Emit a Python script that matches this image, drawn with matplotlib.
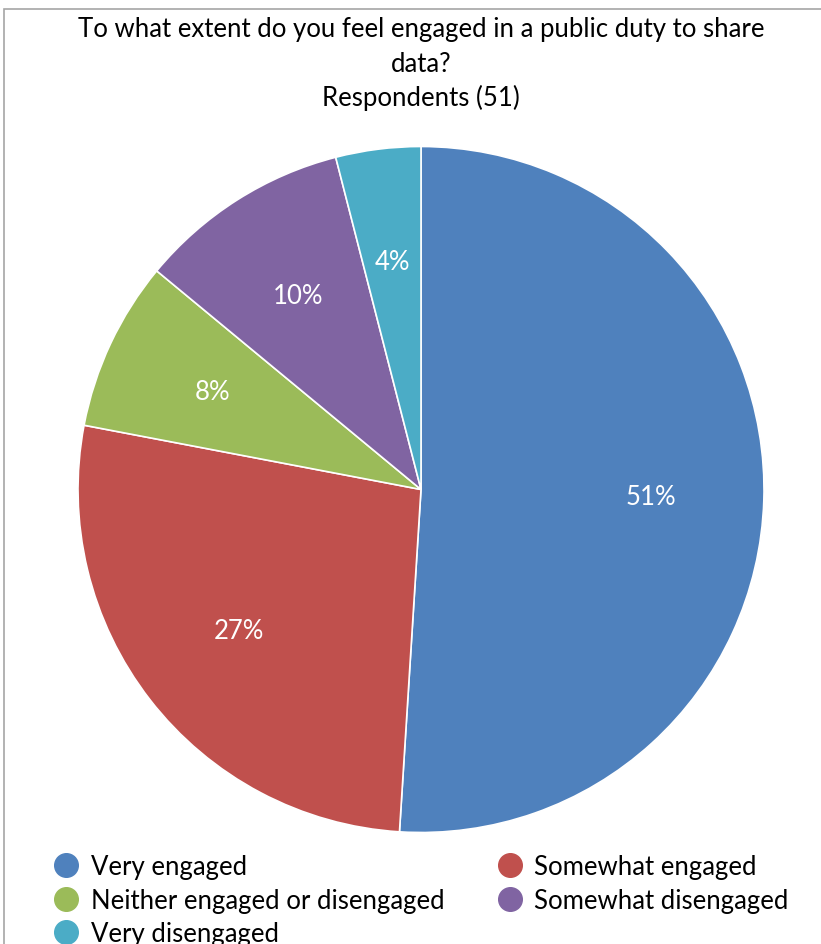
import matplotlib
matplotlib.use("Agg")
import matplotlib.pyplot as plt
from matplotlib.lines import Line2D
from matplotlib.patches import Rectangle

categories = ["Very engaged", "Somewhat engaged", "Neither engaged or disengaged",
              "Somewhat disengaged", "Very disengaged"]
values = [51, 27, 8, 10, 4]
colors = ["#4F81BD", "#C0504D", "#9BBB59", "#8064A2", "#4BACC6"]
title_lines = ["To what extent do you feel engaged in a public duty to share", "data?", "Respondents (51)"]

plt.rcParams['font.family'] = ['Lato', 'DejaVu Sans']

W, H = 821, 945
fig = plt.figure(figsize=(W/100, H/100), dpi=100)

# chart border
fig.patches.append(Rectangle((4/W, -0.1), 2, (H-10)/H + 0.1, transform=fig.transFigure,
                             fill=False, edgecolor="#a6a6a6", linewidth=1.2))

cx, cy, r = 421, 490.5, 343
ax = fig.add_axes([(cx-r)/W, (H-cy-r)/H, 2*r/W, 2*r/H])
wedges, texts, autotexts = ax.pie(values, colors=colors, startangle=90, counterclock=False,
       autopct=lambda p: f"{p:.0f}%", pctdistance=0.67,
       wedgeprops=dict(edgecolor="white", linewidth=1.2),
       textprops=dict(color="white", fontsize=18.5))
ax.set_aspect('equal')
ax.set_xlim(-1, 1)
ax.set_ylim(-1, 1)
ax.axis('off')

for i, line in enumerate(title_lines):
    fig.text(cx/W, 1 - (30 + 34*i)/H, line, ha='center', va='center', fontsize=18.5, color='black')

handles = [Line2D([], [], marker='o', linestyle='none', markersize=17,
                  markerfacecolor=c, markeredgecolor=c) for c in colors]
order = [0, 2, 4, 1, 3]
leg = fig.legend([handles[i] for i in order], [categories[i] for i in order],
                 ncol=2, loc='upper left', bbox_to_anchor=(51/W, 1 - 855/H),
                 frameon=False, fontsize=18.5, handletextpad=0.35, columnspacing=1.94,
                 labelspacing=0.34, borderaxespad=0, handlelength=1.2, borderpad=0)

fig.savefig("out.png", dpi=100)
